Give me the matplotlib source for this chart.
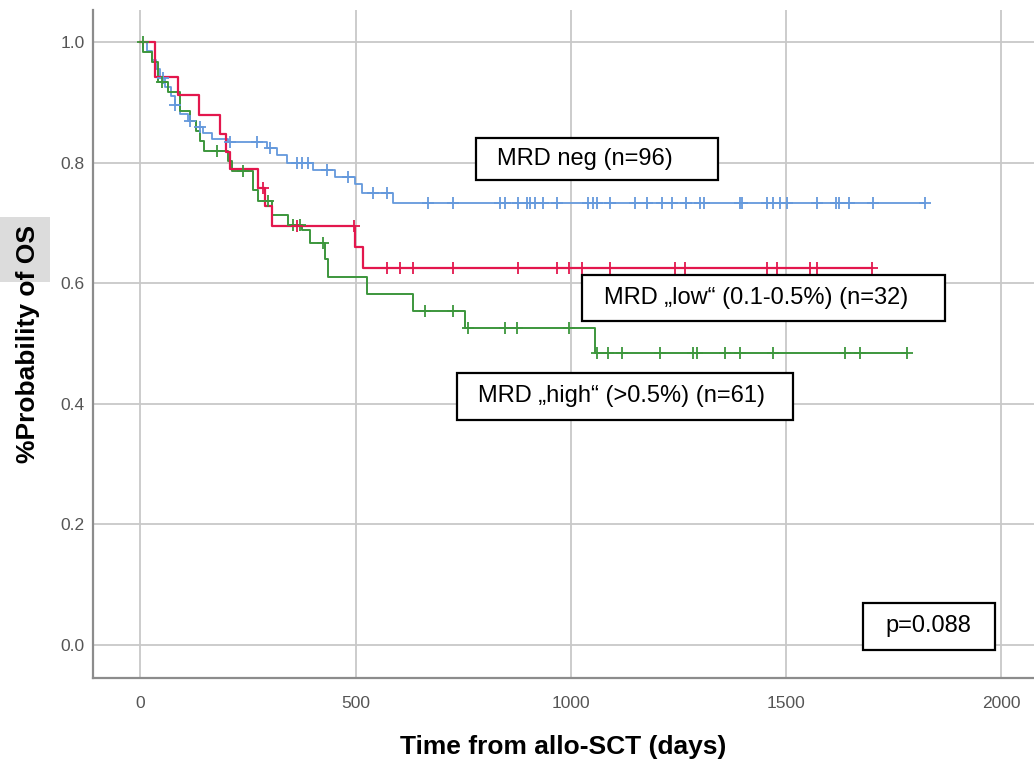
import numpy as np
import matplotlib.pyplot as plt
from matplotlib.patches import Rectangle

# Kaplan-Meier steps (days, survival)
neg_t = [0, 16, 28, 37, 46, 58, 70, 81, 93, 111, 128, 146, 167, 204, 295, 318, 341, 401, 452, 499, 515, 587]
neg_s = [1.0, .985, .97, .955, .94, .925, .91, .895, .88, .87, .86, .85, .84, .835, .824, .812, .80, .788, .776, .765, .75, .733]
neg_cens = [53, 81, 116, 139, 209, 271, 302, 364, 376, 390, 434, 483, 541, 573,
            668, 726, 835, 847, 877, 898, 905, 916, 935, 967, 1039, 1051, 1060, 1090,
            1148, 1176, 1211, 1234, 1267, 1299, 1309, 1392, 1397, 1455, 1469, 1485,
            1503, 1571, 1617, 1624, 1647, 1701, 1822]

low_t = [0, 35, 88, 135, 186, 200, 209, 274, 290, 306, 499, 517]
low_s = [1.0, .942, .912, .879, .848, .818, .79, .758, .728, .695, .66, .625]
low_cens = [285, 364, 496, 573, 603, 633, 726, 877, 968, 995, 1026, 1090,
            1241, 1265, 1455, 1480, 1555, 1571, 1700]

high_t = [0, 7, 28, 42, 65, 93, 116, 128, 139, 148, 204, 213, 262, 274, 306, 343,
          376, 394, 429, 436, 527, 633, 754, 1056]
high_s = [1.0, .984, .967, .934, .918, .885, .869, .852, .836, .82, .803, .786, .754,
          .737, .714, .697, .688, .667, .641, .61, .582, .554, .526, .484]
high_cens = [5, 50, 179, 239, 297, 355, 370, 425, 661, 726, 761, 847, 875, 995,
             1060, 1086, 1118, 1206, 1283, 1292, 1357, 1392, 1469, 1636, 1671, 1780]

groups = [
    ("neg", neg_t, neg_s, neg_cens, "#6499dc", 1.3),
    ("high", high_t, high_s, high_cens, "#3c963c", 1.4),
    ("low", low_t, low_s, low_cens, "#e3174d", 1.6),
]


def km_at(t, s, x):
    idx = np.searchsorted(t, x, side="right") - 1
    return np.asarray(s)[idx]


fig = plt.figure(figsize=(10.34, 7.65), dpi=100)
ax = fig.add_axes([0.090, 0.1137, 0.910, 0.873])

for name, t, s, cens, col, lw in groups:
    t = np.asarray(t, float)
    s = np.asarray(s, float)
    end = max(cens)
    ax.step(np.append(t, end), np.append(s, s[-1]), where="post", color=col, lw=lw, zorder=3)
    ax.plot(cens, km_at(t, s, np.asarray(cens)), ls="none", marker="+", ms=9, mew=1.3,
            color=col, zorder=4)

ax.set_xlim(-110, 2076)
ax.set_ylim(-0.0547, 1.053)
ax.set_xticks([0, 500, 1000, 1500, 2000])
ax.set_yticks([0.0, 0.2, 0.4, 0.6, 0.8, 1.0])
ax.set_yticklabels(["0.0", "0.2", "0.4", "0.6", "0.8", "1.0"])
ax.grid(True, color="#c8c8c8", lw=1.3, zorder=0)
ax.set_axisbelow(True)
for side in ["top", "right"]:
    ax.spines[side].set_visible(False)
for side in ["left", "bottom"]:
    ax.spines[side].set_color("#8c8c8c")
    ax.spines[side].set_linewidth(1.6)
ax.tick_params(axis="both", length=0, labelsize=12.5, labelcolor="#555555")
ax.tick_params(axis="y", pad=6)
ax.tick_params(axis="x", pad=13)
for lab in ax.get_xticklabels() + ax.get_yticklabels():
    lab.set_family("Liberation Sans")

ax.set_xlabel("Time from allo-SCT (days)", fontsize=19, fontweight="bold",
              family="Liberation Sans", labelpad=17)
ax.set_ylabel("%Probability of OS", fontsize=19, fontweight="bold",
              family="Liberation Sans", labelpad=15)

# annotation boxes (t0, t1, s0, s1, text x, text y, text)
boxes = [
    (779, 1342, 0.771, 0.841, 828, 0.806, "MRD neg (n=96)"),
    (1027, 1869, 0.537, 0.614, 1077, 0.575, "MRD \u201elow\u201c (0.1-0.5%) (n=32)"),
    (735, 1516, 0.373, 0.451, 784, 0.413, "MRD \u201ehigh\u201c (>0.5%) (n=61)"),
    (1678, 1985, -0.008, 0.070, 1730, 0.0315, "p=0.088"),
]
for x0, x1, y0, y1, tx, ty, txt in boxes:
    ax.add_patch(Rectangle((x0, y0), x1 - x0, y1 - y0, fc="white", ec="black",
                           lw=1.6, zorder=5))
    ax.text(tx, ty, txt, fontsize=17, family="Liberation Sans", va="center",
            ha="left", zorder=6)

# grey scan artefact behind the y label
fig.patches.append(Rectangle((0, 1 - 282 / 765), 50 / 1034, 65 / 765,
                             transform=fig.transFigure, fc="#dcdcdc", ec="none",
                             zorder=-1))

fig.savefig("out.png", dpi=100)
